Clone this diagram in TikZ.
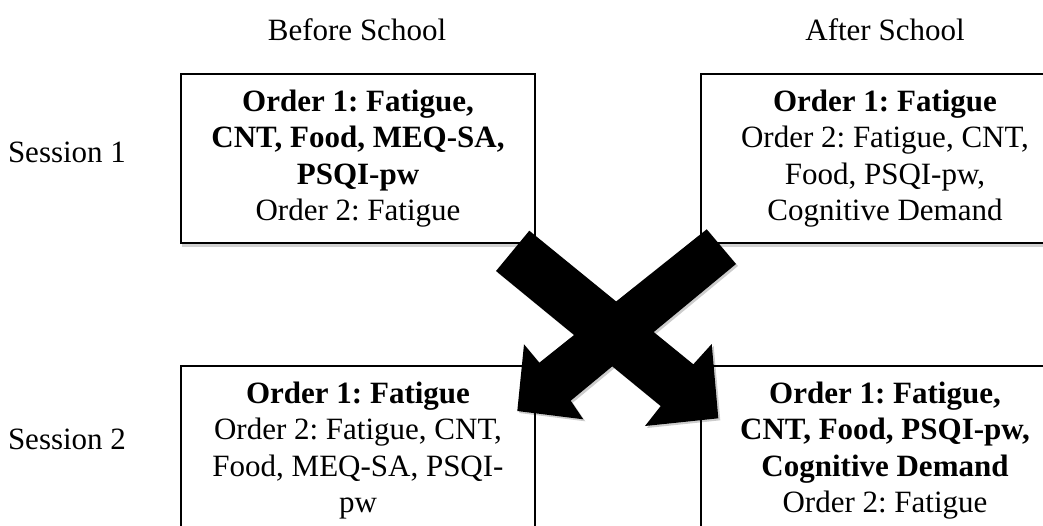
\documentclass[tikz,border=0pt]{standalone}
\usepackage{fontspec}
\setmainfont{Liberation Serif}
\usetikzlibrary{shadows}
\frenchspacing
\begin{document}
\begin{tikzpicture}[x=1pt,y=-1pt,
  every node/.style={font=\fontsize{31}{36.5}\selectfont\frenchspacing},
  box/.style={draw=black, line width=2pt, fill=white, align=center, inner sep=0pt,
    minimum height=169pt,
    drop shadow={shadow xshift=1pt, shadow yshift=-4pt, opacity=0.18, fill=black}},
  lbl/.style={inner sep=0pt},
  bigarrow/.style={fill=black, draw=none,
    drop shadow={shadow xshift=2pt, shadow yshift=-2pt, opacity=0.2, fill=black}}]
\useasboundingbox (0,0) rectangle (1043,525);
\clip (0,0) rectangle (1043,525);

% column and row labels
\node[lbl] (before) at (357,30) {Before School};
\node[lbl] (after) at (885,30) {After School};
\node[lbl] (sess1) at (67,152) {Session 1};
\node[lbl] (sess2) at (67,439) {Session 2};

% boxes
\node[box, minimum width=354pt] (s1b) at (358,158.5)
  {\textbf{Order 1: Fatigue,}\\\textbf{CNT, Food, MEQ-SA,}\\\textbf{PSQI-pw}\\Order 2: Fatigue};
\node[box, minimum width=368pt] (s1a) at (885,158.5)
  {\textbf{Order 1: Fatigue}\\Order 2: Fatigue, CNT,\\Food, PSQI-pw,\\Cognitive Demand};
\node[box, minimum width=354pt] (s2b) at (358,450.5)
  {\textbf{Order 1: Fatigue}\\Order 2: Fatigue, CNT,\\Food, MEQ-SA, PSQI-\\pw};
\node[box, minimum width=368pt] (s2a) at (885,450.5)
  {\textbf{Order 1: Fatigue,}\\\textbf{CNT, Food, PSQI-pw,}\\\textbf{Cognitive Demand}\\Order 2: Fatigue};

% crossing block arrows: before->after (A) and after->before (B)
\coordinate (aT1) at (529.3,230.7);
\coordinate (aN1) at (693.3,364.3);
\coordinate (aB1) at (711.7,344);
\coordinate (aTip) at (718.3,418.3);
\coordinate (aB2) at (645,426);
\coordinate (aN2) at (660.7,406);
\coordinate (aT2) at (496,271);

\coordinate (bT1) at (706.7,229.3);
\coordinate (bN1) at (539.3,362.7);
\coordinate (bB1) at (524,344.3);
\coordinate (bTip) at (517.3,411);
\coordinate (bB2) at (583.3,419.3);
\coordinate (bN2) at (570.7,400.7);
\coordinate (bT2) at (736,264);

\fill[bigarrow] (aT1) -- (aN1) -- (aB1) -- (aTip) -- (aB2) -- (aN2) -- (aT2) -- cycle;
\fill[bigarrow] (bT1) -- (bN1) -- (bB1) -- (bTip) -- (bB2) -- (bN2) -- (bT2) -- cycle;
\end{tikzpicture}
\end{document}
